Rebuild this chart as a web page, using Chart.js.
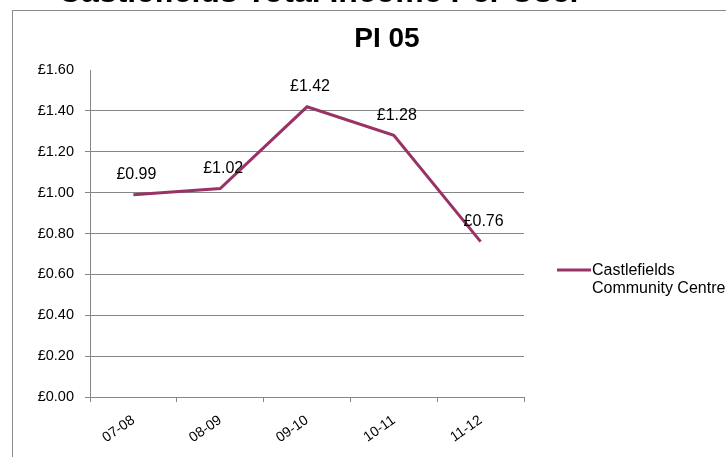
<!DOCTYPE html>
<html>
<head>
<meta charset="utf-8">
<script src="https://cdn.jsdelivr.net/npm/chart.js@4"></script>
<style>
  html, body { margin: 0; padding: 0; background: #fff; overflow: hidden; }
  #wrap { position: relative; width: 726px; height: 457px; overflow: hidden; }
  #frame { position: absolute; left: 12px; top: 10px; width: 740px; height: 470px;
           border: 1.5px solid #8a8a8a; box-sizing: border-box; }
  #heading { position: absolute; left: 0; width: 640px; top: -25px; line-height: 32px; text-align: center;
             font-family: "Liberation Sans", Arial, sans-serif; font-weight: bold; font-size: 32px;
             color: #000; white-space: nowrap; z-index: 2; }
  canvas { position: absolute; left: 0; top: 0; }
</style>
</head>
<body>
<div id="wrap">
  <div id="frame"></div>
  <canvas id="chart" width="726" height="457"></canvas>
  <div id="heading">Castlefields Total Income Per User</div>
</div>
<script>
// chart data
const years = ["07-08", "08-09", "09-10", "10-11", "11-12"];
const income = [0.99, 1.02, 1.42, 1.28, 0.76];
const seriesName = ["Castlefields", "Community Centre"];
const chartTitle = "PI 05";
const lineColour = "#993366";

const fontFamily = '"Liberation Sans", Arial, sans-serif';

function pounds(v) {
	return "\u00a3" + Number(v).toFixed(2);
}

// title, point labels and the two-line legend are drawn here
const extras = {
	id: "extras",
	afterDatasetsDraw(chart) {
		let ctx = chart.ctx;
		let meta = chart.getDatasetMeta(0);
		ctx.save();
		ctx.fillStyle = "#000";
		ctx.font = "16px " + fontFamily;
		ctx.textAlign = "center";
		ctx.textBaseline = "middle";
		meta.data.forEach(function (pt, i) {
			ctx.fillText(pounds(income[i]), pt.x + 3, pt.y - 20);
		});

		ctx.font = "bold 28px " + fontFamily;
		ctx.fillText(chartTitle, 387, 39);

		// legend
		ctx.strokeStyle = lineColour;
		ctx.lineWidth = 3;
		ctx.beginPath();
		ctx.moveTo(557, 270);
		ctx.lineTo(591, 270);
		ctx.stroke();
		ctx.font = "16px " + fontFamily;
		ctx.textAlign = "left";
		ctx.fillText(seriesName[0], 592, 271);
		ctx.fillText(seriesName[1], 592, 289);
		ctx.restore();
	}
};

var ctx = document.getElementById("chart").getContext("2d");
var myChart = new Chart(ctx, {
	type: "line",
	data: {
		labels: years,
		datasets: [{
			label: seriesName.join(" "),
			data: income,
			borderColor: lineColour,
			backgroundColor: lineColour,
			borderWidth: 3,
			pointRadius: 0,
			tension: 0
		}]
	},
	options: {
		responsive: false,
		animation: false,
		layout: { padding: { top: 70, right: 202, left: 0, bottom: 0 } },
		plugins: {
			legend: { display: false },
			title: { display: false },
			tooltip: { enabled: false }
		},
		scales: {
			x: {
				offset: true,
				afterFit: function (scale) { scale.height = 60; },
				grid: {
					offset: true,
					drawOnChartArea: false,
					drawTicks: true,
					tickLength: 5,
					color: "#868686"
				},
				border: { color: "#868686", width: 1 },
				ticks: {
					minRotation: 35,
					maxRotation: 35,
					color: "#000",
					font: { family: fontFamily, size: 14 },
					padding: 10
				}
			},
			y: {
				min: 0,
				max: 1.6,
				afterFit: function (scale) { scale.width = 90; },
				grid: {
					color: function (c) {
						return c.tick && c.tick.value >= 1.6 ? "rgba(0,0,0,0)" : "#868686";
					},
					tickLength: 5
				},
				border: { color: "#868686", width: 1 },
				ticks: {
					stepSize: 0.2,
					color: "#000",
					padding: 11,
					font: { family: fontFamily, size: 14.5 },
					callback: function (v) { return pounds(v); }
				}
			}
		}
	},
	plugins: [extras]
});
</script>
</body>
</html>
